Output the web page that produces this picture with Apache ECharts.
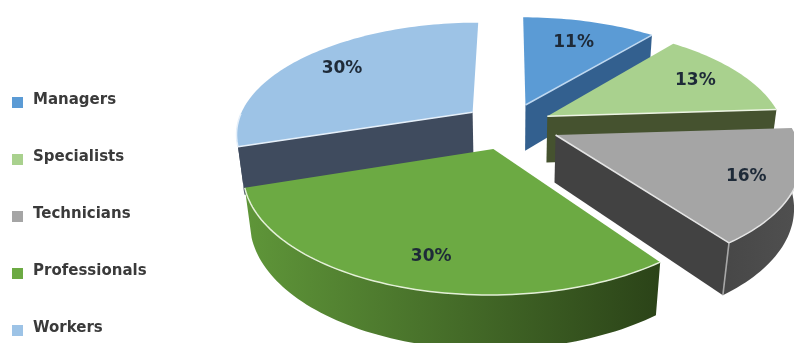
<!DOCTYPE html>
<html>
<head>
<meta charset="utf-8">
<style>html,body{margin:0;padding:0;background:#fff}#chart{width:794px;height:343px}</style>
<script src="https://cdn.jsdelivr.net/npm/echarts@6/dist/echarts.min.js"></script>
</head>
<body>
<div id="chart"></div>
<script>
// Workforce composition, drawn as an exploded 3D pie.
var categories = ['Managers', 'Specialists', 'Technicians', 'Professionals', 'Workers'];
var shares = [11, 13, 16, 30, 30];

var topColors = ['#5B9BD5', '#A9D18E', '#A5A5A5', '#6CAA43', '#9DC3E6'];
var wallColors = ['#33608F', '#45522F', '#424242', '#3C5E25', '#3F4B5E'];
var arcWallFrom = ['#33608F', '#45522F', '#474747', '#5F9639', '#3F4B5E'];
var arcWallTo = ['#33608F', '#45522F', '#505050', '#2B4318', '#3F4B5E'];
var edgeColors = ['#BFD8F0', '#EDF4E4', '#E4E4E4', '#E4F0D8', '#E6F0FA'];
var paintOrder = [0, 1, 4, 2, 3];

// Perspective camera for the pie: unit radius, top face at height 0.
var cam = { cx: 510, cy: 125, fx: 236, fy: 110, k: 0.18, wall: 48, wallDepth: 0.024 };
var explode = [0.2, 0.18, 0.21, 0.22, 0.2];
var labelRadius = [0.72, 0.77, 0.81, 0.8, 0.77];
var labelTurnDeg = [0, 0, 0, -3, 0];

function project(X, Y, lower) {
  var d = 1 + cam.k * Y + (lower ? cam.wallDepth : 0);
  return [cam.cx + cam.fx * X / d, cam.cy + (-cam.fy * Y + (lower ? cam.wall : 0)) / d];
}

var total = shares.reduce(function (s, v) { return s + v; }, 0);

// Walking the rim clockwise, a wall faces the camera when the walk heads left.
function faces(a, b) {
  var dx = b[0] - a[0], dy = b[1] - a[1];
  return dx < -0.01 * Math.sqrt(dx * dx + dy * dy);
}

function sliceChildren(i) {
  var before = shares.slice(0, i).reduce(function (s, v) { return s + v; }, 0);
  var a0 = before / total * 2 * Math.PI;
  var a1 = (before + shares[i]) / total * 2 * Math.PI;
  var mid = (a0 + a1) / 2;
  var ox = explode[i] * Math.sin(mid), oy = explode[i] * Math.cos(mid);
  var plane = function (a, r) { return [ox + r * Math.sin(a), oy + r * Math.cos(a)]; };

  var steps = Math.max(8, Math.round((a1 - a0) * 40));
  var rim = [];
  for (var n = 0; n <= steps; n++) rim.push(plane(a0 + (a1 - a0) * n / steps, 1));
  var apex = [ox, oy];

  var topOf = function (p) { return project(p[0], p[1], false); };
  var lowOf = function (p) { return project(p[0], p[1], true); };

  var children = [];
  var edges = [];

  // Radial walls, kept only when they face the camera.
  [[apex, rim[0]], [rim[steps], apex]].forEach(function (e) {
    if (faces(e[0], e[1])) {
      children.push({
        type: 'polygon',
        shape: { points: [topOf(e[0]), topOf(e[1]), lowOf(e[1]), lowOf(e[0])] },
        style: { fill: wallColors[i] }
      });
      edges.push([topOf(e[0]), topOf(e[1])]);
    }
  });

  // Curved outer wall.
  var run = [];
  for (var m = 0; m < steps; m++) {
    if (faces(rim[m], rim[m + 1])) {
      if (!run.length) run.push(rim[m]);
      run.push(rim[m + 1]);
    }
  }
  if (run.length) {
    var upper = run.map(topOf), lower = run.map(lowOf).reverse();
    children.push({
      type: 'polygon',
      shape: { points: upper.concat(lower) },
      style: {
        fill: new echarts.graphic.LinearGradient(1, 0, 0, 0, [
          { offset: 0, color: arcWallTo[i] },
          { offset: 1, color: arcWallFrom[i] }
        ])
      }
    });
    edges.push(upper);
    // Corner between the curved wall and the radial wall in front of it.
    if (faces(rim[steps], apex)) {
      children.push({
        type: 'line',
        shape: {
          x1: topOf(rim[steps])[0], y1: topOf(rim[steps])[1],
          x2: lowOf(rim[steps])[0], y2: lowOf(rim[steps])[1]
        },
        style: { stroke: '#A8A8A8', lineWidth: 1.6 }
      });
    }
  }

  children.push({
    type: 'polygon',
    shape: { points: [topOf(apex)].concat(rim.map(topOf)) },
    style: { fill: topColors[i] }
  });
  edges.forEach(function (pts) {
    children.push({
      type: 'polyline',
      shape: { points: pts },
      style: { fill: null, stroke: edgeColors[i], lineWidth: 1.5 }
    });
  });

  var turned = mid + labelTurnDeg[i] * Math.PI / 180;
  var at = project(ox + labelRadius[i] * Math.sin(turned), oy + labelRadius[i] * Math.cos(turned), false);
  children.push({
    type: 'text',
    style: {
      text: shares[i] + '%',
      x: at[0], y: at[1],
      align: 'center', verticalAlign: 'middle',
      fontFamily: 'DejaVu Sans', fontWeight: 'bold', fontSize: 17,
      fill: '#1E2A38'
    }
  });
  return children;
}

var chart = echarts.init(document.getElementById('chart'), null, { renderer: 'canvas' });
chart.setOption({
  animation: false,
  backgroundColor: '#ffffff',
  tooltip: { show: false },
  legend: {
    orient: 'vertical',
    left: 12,
    top: 93,
    padding: 0,
    data: categories,
    icon: 'rect',
    itemWidth: 11,
    itemHeight: 11,
    itemGap: 42,
    selectedMode: false,
    formatter: '{t|{name}}',
    textStyle: {
      rich: {
        t: {
          fontFamily: 'DejaVu Sans',
          fontWeight: 'bold',
          fontSize: 15,
          color: '#3A3A3A',
          padding: [0, 0, 4, 5]
        }
      }
    }
  },
  series: categories.map(function (name, i) {
    return {
      type: 'custom',
      name: name,
      coordinateSystem: 'none',
      z: 2 + paintOrder.indexOf(i),
      silent: true,
      itemStyle: { color: topColors[i] },
      data: [shares[i]],
      renderItem: function () {
        return { type: 'group', children: sliceChildren(i) };
      }
    };
  })
});
</script>
</body>
</html>
